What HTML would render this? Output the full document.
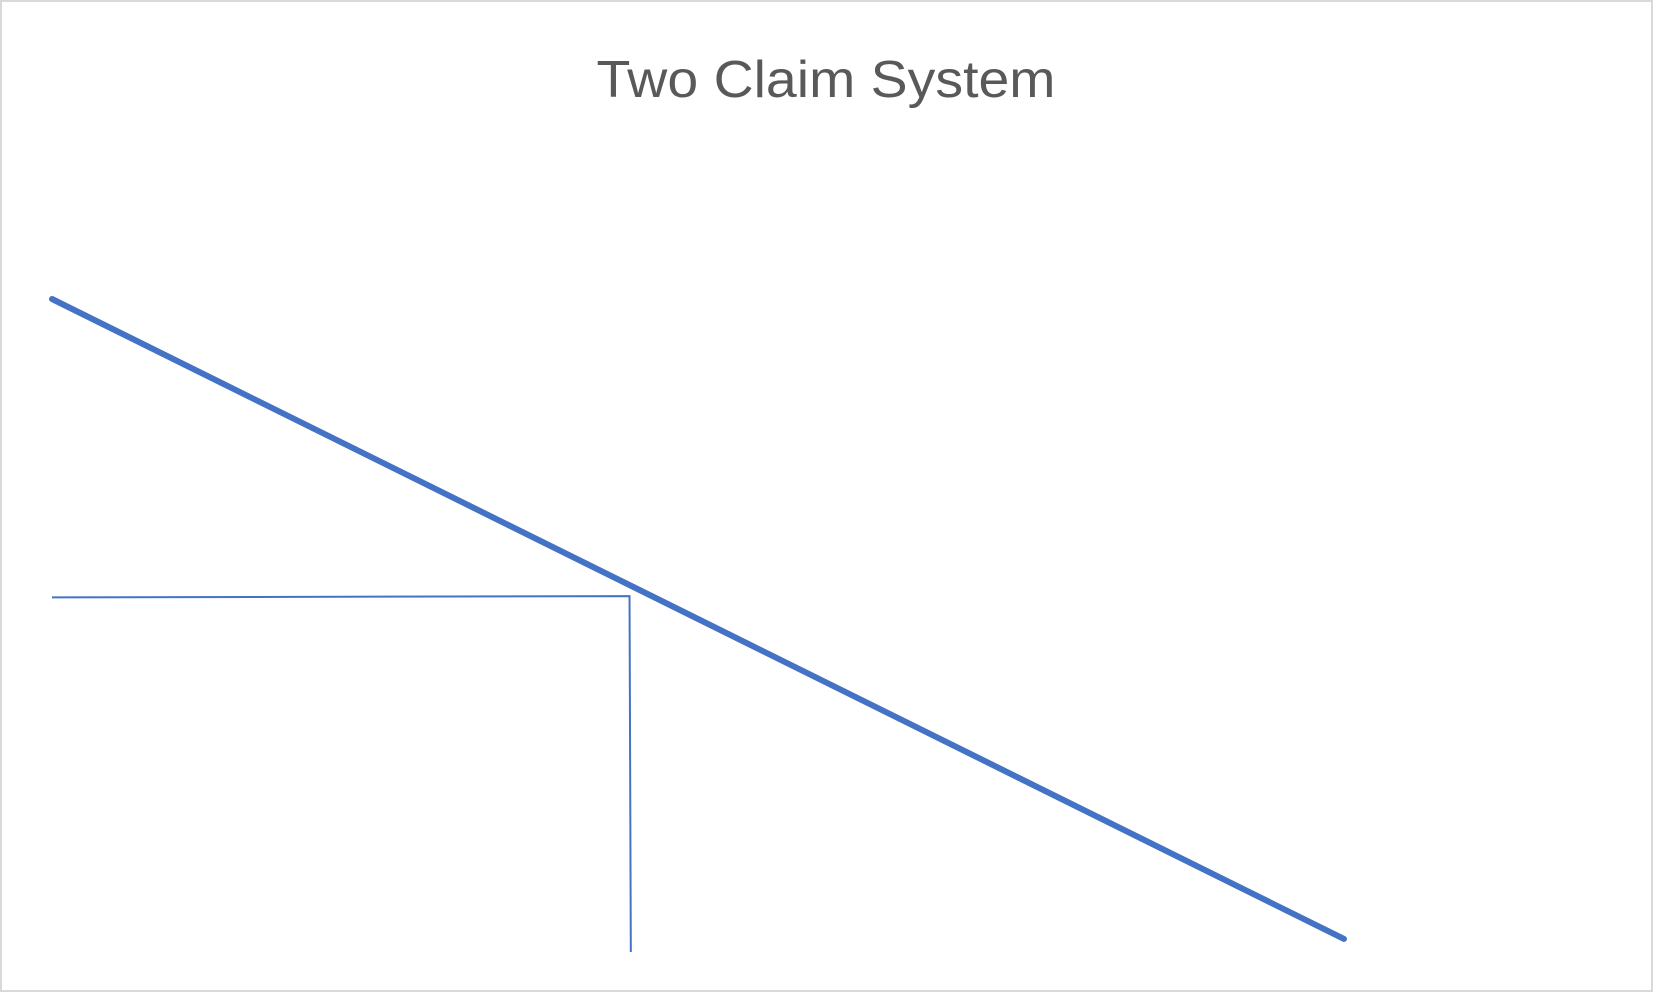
<!DOCTYPE html>
<html><head><meta charset="utf-8"><style>
html,body{margin:0;padding:0;background:#fff;}
svg{display:block;}
</style></head><body>
<svg id="chart" width="1653" height="992" viewBox="0 0 1653 992">
<rect x="1" y="1" width="1651" height="990" fill="#fff" stroke="#d9d9d9" stroke-width="2"/>
<text x="826" y="97" text-anchor="middle" font-family="Liberation Sans, sans-serif" font-size="52" fill="#595959" textLength="459" lengthAdjust="spacingAndGlyphs">Two Claim System</text>
<g id="plot"></g>
</svg>
<script>
const lineX = [0, 10];
const lineY = [10, 0.2];
const refX = [0, 4.47, 4.48];
const refY = [5.43, 5.45, 0];
const xPx = x => 52 + x * 129.2;
const yPx = y => 952 - y * 65.3;
const ns = 'http://www.w3.org/2000/svg';
const g = document.getElementById('plot');
function pts(xs, ys){return xs.map((x,i)=>xPx(x)+','+yPx(ys[i])).join(' ');}
const ref = document.createElementNS(ns,'polyline');
ref.setAttribute('points', pts(refX, refY));
ref.setAttribute('fill','none');
ref.setAttribute('stroke','#4472c4');
ref.setAttribute('stroke-width','2');


g.appendChild(ref);
const main = document.createElementNS(ns,'polyline');
main.setAttribute('points', pts(lineX, lineY));
main.setAttribute('fill','none');
main.setAttribute('stroke','#4472c4');
main.setAttribute('stroke-width','6');
main.setAttribute('stroke-linecap','round');


g.appendChild(main);
</script>
</body></html>
